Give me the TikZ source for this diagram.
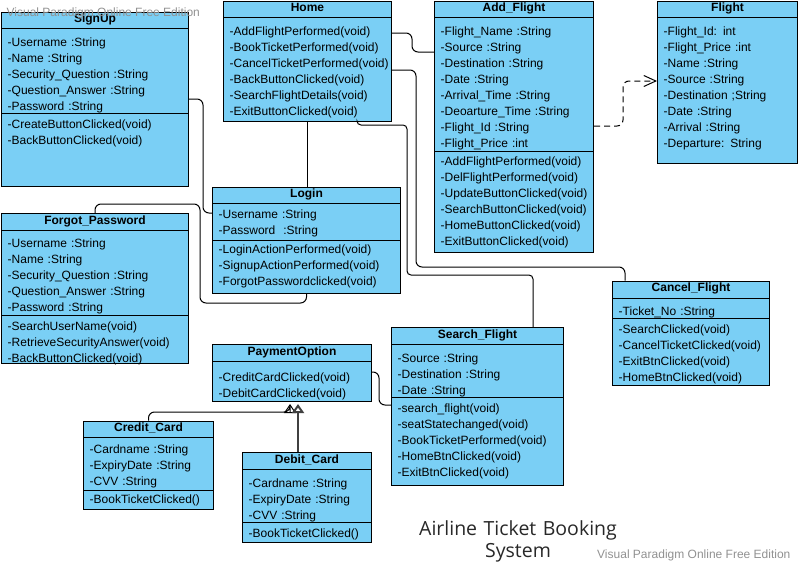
\documentclass[tikz,border=0pt]{standalone}
\usepackage{fontspec}
\setmainfont{Liberation Sans}
\newfontfamily\captionfont{Open Sans}
\usetikzlibrary{arrows.meta}
\definecolor{classblue}{RGB}{122,207,245}
\definecolor{markgray}{RGB}{145,145,145}
\definecolor{captiongray}{RGB}{40,40,40}
\begin{document}
\begin{tikzpicture}[x=1pt,y=-1pt,
  cls/.style={draw,line width=1pt,fill=classblue,anchor=north west,inner sep=0pt},
  ttl/.style={anchor=base,inner sep=0pt,font=\fontsize{12}{16}\selectfont\bfseries},
  rows/.style={anchor=base west,inner sep=0pt,text width=200pt,align=left,font=\fontsize{12}{16}\selectfont},
  sep/.style={line width=1pt},
  conn/.style={draw,line width=1pt,rounded corners=6pt},
  gen/.style={-{Triangle[open,length=9pt,width=12pt]}},
  wmark/.style={inner sep=0pt,text=markgray,font=\fontsize{12}{14}\selectfont}]
\useasboundingbox (0,0) rectangle (803,565);

% SignUp
\node[cls,minimum width=187,minimum height=174] (signup) at (1,12) {};
\node[ttl] (signup-t) at (signup.north |- 0,22.7) {SignUp};
\draw[sep] (signup.west |- 0,28) -- (signup.east |- 0,28);
\draw[sep] (signup.west |- 0,113) -- (signup.east |- 0,113);
\node[rows] (signup-a) at (7.5,46) {-Username :String\\-Name :String\\-Security\_Question :String\\-Question\_Answer :String\\-Password :String};
\node[rows] (signup-m) at (7.5,128) {-CreateButtonClicked(void)\\-BackButtonClicked(void)};

% Home
\node[cls,minimum width=168,minimum height=120] (home) at (223,1) {};
\node[ttl] (home-t) at (home.north |- 0,11.7) {Home};
\draw[sep] (home.west |- 0,17) -- (home.east |- 0,17);
\node[rows] (home-m) at (229.5,35) {-AddFlightPerformed(void)\\-BookTicketPerformed(void)\\-CancelTicketPerformed(void)\\-BackButtonClicked(void)\\-SearchFlightDetails(void)\\-ExitButtonClicked(void)};

% Add_Flight
\node[cls,minimum width=159,minimum height=251] (addf) at (434,1) {};
\node[ttl] (addf-t) at (addf.north |- 0,11.7) {Add\_Flight};
\draw[sep] (addf.west |- 0,17) -- (addf.east |- 0,17);
\draw[sep] (addf.west |- 0,151) -- (addf.east |- 0,151);
\node[rows] (addf-a) at (440.5,35) {-Flight\_Name :String\\-Source :String\\-Destination :String\\-Date :String\\-Arrival\_Time :String\\-Deoarture\_Time :String\\-Flight\_Id :String\\-Flight\_Price :int};
\node[rows] (addf-m) at (440.5,165.6) {-AddFlightPerformed(void)\\-DelFlightPerformed(void)\\-UpdateButtonClicked(void)\\-SearchButtonClicked(void)\\-HomeButtonClicked(void)\\-ExitButtonClicked(void)};

% Flight
\node[cls,minimum width=140,minimum height=162] (flight) at (657,1) {};
\node[ttl] (flight-t) at (flight.north |- 0,11.7) {Flight};
\draw[sep] (flight.west |- 0,17) -- (flight.east |- 0,17);
\node[rows] (flight-a) at (663.5,35) {-Flight\_Id: int\\-Flight\_Price :int\\-Name :String\\-Source :String\\-Destination ;String\\-Date :String\\-Arrival :String\\-Departure: String};

% Login
\node[cls,minimum width=188,minimum height=106] (login) at (212,187) {};
\node[ttl] (login-t) at (login.north |- 0,197.7) {Login};
\draw[sep] (login.west |- 0,203.3) -- (login.east |- 0,203.3);
\draw[sep] (login.west |- 0,240.7) -- (login.east |- 0,240.7);
\node[rows] (login-a) at (218.5,218.6) {-Username :String\\-Password\ \ :String};
\node[rows] (login-m) at (218.5,253.3) {-LoginActionPerformed(void)\\-SignupActionPerformed(void)\\-ForgotPasswordclicked(void)};

% Forgot_Password
\node[cls,minimum width=187,minimum height=150] (fp) at (1,213.3) {};
\node[ttl] (fp-t) at (fp.north |- 0,224) {Forgot\_Password};
\draw[sep] (fp.west |- 0,230.7) -- (fp.east |- 0,230.7);
\draw[sep] (fp.west |- 0,315.7) -- (fp.east |- 0,315.7);
\node[rows] (fp-a) at (7.5,247.6) {-Username :String\\-Name :String\\-Security\_Question :String\\-Question\_Answer :String\\-Password :String};
\node[rows] (fp-m) at (7.5,330) {-SearchUserName(void)\\-RetrieveSecurityAnswer(void)\\-BackButtonClicked(void)};

% PaymentOption
\node[cls,minimum width=159,minimum height=56.7] (payopt) at (212,344.3) {};
\node[ttl] (payopt-t) at (payopt.north |- 0,355) {PaymentOption};
\draw[sep] (payopt.west |- 0,361.7) -- (payopt.east |- 0,361.7);
\node[rows] (payopt-m) at (218.5,381.3) {-CreditCardClicked(void)\\-DebitCardClicked(void)};

% Search_Flight
\node[cls,minimum width=172,minimum height=157.7] (search) at (391,327.3) {};
\node[ttl] (search-t) at (search.north |- 0,338) {Search\_Flight};
\draw[sep] (search.west |- 0,344.3) -- (search.east |- 0,344.3);
\draw[sep] (search.west |- 0,397.3) -- (search.east |- 0,397.3);
\node[rows] (search-a) at (397.5,362) {-Source :String\\-Destination :String\\-Date :String};
\node[rows] (search-m) at (397.5,412) {-search\_flight(void)\\-seatStatechanged(void)\\-BookTicketPerformed(void)\\-HomeBtnClicked(void)\\-ExitBtnClicked(void)};

% Cancel_Flight
\node[cls,minimum width=157,minimum height=104.3] (cancel) at (612,280.7) {};
\node[ttl] (cancel-t) at (cancel.north |- 0,291.4) {Cancel\_Flight};
\draw[sep] (cancel.west |- 0,298) -- (cancel.east |- 0,298);
\draw[sep] (cancel.west |- 0,318.3) -- (cancel.east |- 0,318.3);
\node[rows] (cancel-a) at (618.5,315.6) {-Ticket\_No :String};
\node[rows] (cancel-m) at (618.5,333.3) {-SearchClicked(void)\\-CancelTicketClicked(void)\\-ExitBtnClicked(void)\\-HomeBtnClicked(void)};

% Credit_Card
\node[cls,minimum width=130,minimum height=88.3] (credit) at (83,420.7) {};
\node[ttl] (credit-t) at (credit.north |- 0,431.4) {Credit\_Card};
\draw[sep] (credit.west |- 0,437.7) -- (credit.east |- 0,437.7);
\draw[sep] (credit.west |- 0,490) -- (credit.east |- 0,490);
\node[rows] (credit-a) at (89.5,453.3) {-Cardname :String\\-ExpiryDate :String\\-CVV :String};
\node[rows] (credit-m) at (89.5,503.3) {-BookTicketClicked()};

% Debit_Card
\node[cls,minimum width=129,minimum height=89.4] (debit) at (242,452.3) {};
\node[ttl] (debit-t) at (debit.north |- 0,463) {Debit\_Card};
\draw[sep] (debit.west |- 0,469.3) -- (debit.east |- 0,469.3);
\draw[sep] (debit.west |- 0,522.3) -- (debit.east |- 0,522.3);
\node[rows] (debit-a) at (248.5,487) {-Cardname :String\\-ExpiryDate :String\\-CVV :String};
\node[rows] (debit-m) at (248.5,537) {-BookTicketClicked()};

% connectors
\draw[conn] (signup.east |- 0,99) -- (203,99) -- (203,213) -- (login.west |- 0,213);
\draw[conn] (fp.north) -- (fp.north |- 0,204) -- (200,204) -- (200,303) -- (login.south |- 0,303) -- (login.south);
\draw[conn] (home.south) -- (home.south |- login.north);
\draw[conn] (home.east |- 0,33) -- (412,33) -- (412,52) -- (addf.west |- 0,52);
\draw[conn] (home.east |- 0,70) -- (416,70) -- (416,267) -- (625,267) -- (cancel.north -| 625,0);
\draw[conn,rounded corners=4pt] (home.south -| 357,0) -- (357,125) -- (407,125) -- (407,275) -- (533,275) -- (search.north -| 533,0);
\draw[conn,dash pattern=on 6pt off 4pt,-{Straight Barb[length=12pt,width=11pt]}] (addf.east |- 0,126) -- (623,126) -- (623,81) -- (flight.west |- 0,81);
\draw[conn] (payopt.east |- 0,372) -- (379,372) -- (379,405) -- (search.west |- 0,405);
\draw[conn,gen] (credit.north) -- (credit.north |- 0,412) -- (290,412) [sharp corners] -- ([yshift=-2pt]payopt.south -| 290,0);
\draw[conn,gen,line width=2pt,draw=black!75] (debit.north -| 298,0) -- ([yshift=-2pt]payopt.south -| 298,0);

% caption
\node[anchor=base,inner sep=0pt,text width=260pt,align=center,text=captiongray,font=\captionfont\fontsize{19.5}{22}\selectfont] (caption) at (518,535) {Airline Ticket Booking\\System};
\node[wmark,anchor=base west] (wm-top) at (6.5,16) {Visual Paradigm Online Free Edition};
\node[wmark,anchor=base west] (wm-bottom) at (597,558) {Visual Paradigm Online Free Edition};
\end{tikzpicture}
\end{document}
